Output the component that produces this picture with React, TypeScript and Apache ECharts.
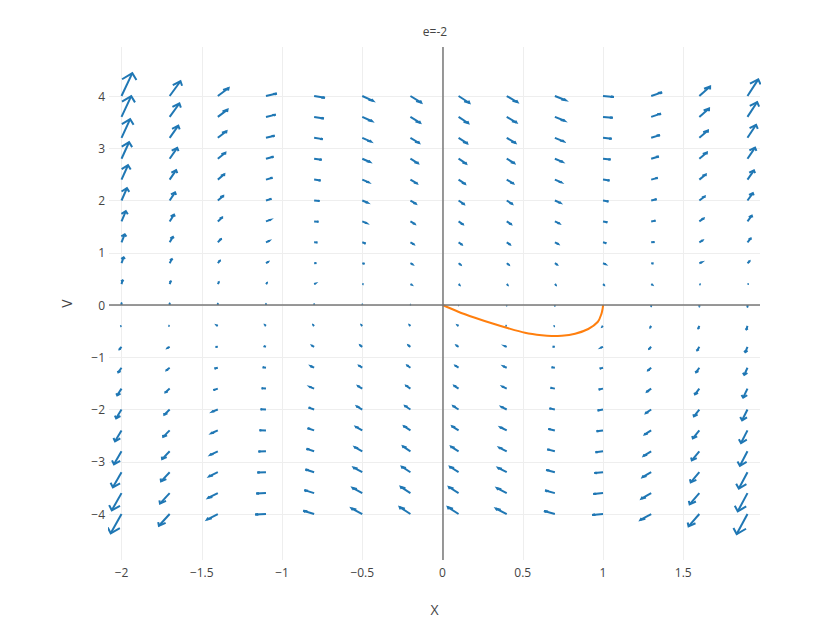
import React, { useEffect, useRef } from "react";
import * as echarts from "echarts";

// Quiver grid (arrow tails)
const X_GRID = [-2, -1.7, -1.4, -1.1, -0.8, -0.5, -0.2, 0.1, 0.4, 0.7, 1.0, 1.3, 1.6, 1.9];
const Y_GRID = [4, 3.6, 3.2, 2.8, 2.4, 2, 1.6, 1.2, 0.8, 0.4, 0, -0.4, -0.8, -1.2, -1.6, -2, -2.4, -2.8, -3.2, -3.6, -4];
// Horizontal component of the arrows, one value per row
const U_ROW = [4, 3.6, 3.2, 2.8, 2.4, 2, 1.6, 1.2, 0.8, 0.4, 0, -0.4, -0.8, -1.2, -1.6, -2, -2.4, -2.8, -3.2, -3.6, -4];
// Vertical component of the arrows (rows follow Y_GRID, columns follow X_GRID)
const V_TABLE = [
  [26, 16.8, 9.1, 2.8, -2.1, -5.5, -7.5, -8, -7.1, -4.8, -1, 4.2, 10.9, 19],
  [23.6, 15.3, 8.3, 2.6, -1.8, -4.9, -6.7, -7.2, -6.4, -4.4, -1, 3.7, 9.6, 16.9],
  [21.2, 13.8, 7.5, 2.4, -1.5, -4.3, -5.9, -6.4, -5.8, -4, -1, 3.1, 8.4, 14.8],
  [18.8, 12.3, 6.8, 2.3, -1.2, -3.7, -5.2, -5.6, -5.1, -3.6, -1, 2.6, 7.1, 12.7],
  [16.4, 10.8, 6, 2.1, -0.9, -3.1, -4.4, -4.9, -4.4, -3.1, -1, 2, 5.9, 10.6],
  [14, 9.3, 5.2, 1.9, -0.6, -2.5, -3.6, -4.1, -3.8, -2.7, -1, 1.5, 4.6, 8.5],
  [11.6, 7.7, 4.5, 1.8, -0.4, -1.9, -2.9, -3.3, -3.1, -2.3, -1, 0.9, 3.4, 6.5],
  [9.2, 6.2, 3.7, 1.6, -0.1, -1.3, -2.1, -2.5, -2.4, -1.9, -1, 0.4, 2.1, 4.4],
  [6.8, 4.7, 2.9, 1.4, 0.2, -0.7, -1.3, -1.7, -1.7, -1.5, -1, -0.2, 0.9, 2.3],
  [4.4, 3.2, 2.2, 1.3, 0.5, -0.1, -0.6, -0.9, -1.1, -1.1, -1, -0.7, -0.4, 0.2],
  [2, 1.7, 1.4, 1.1, 0.8, 0.5, 0.2, -0.1, -0.4, -0.7, -1, -1.3, -1.6, -1.9],
  [-0.4, 0.2, 0.6, 0.9, 1.1, 1.1, 1, 0.7, 0.3, -0.3, -1, -1.9, -2.8, -4],
  [-2.8, -1.3, -0.1, 0.8, 1.4, 1.7, 1.7, 1.5, 0.9, 0.1, -1, -2.4, -4.1, -6.1],
  [-5.2, -2.8, -0.9, 0.6, 1.7, 2.3, 2.5, 2.3, 1.6, 0.5, -1, -3, -5.3, -8.2],
  [-7.6, -4.3, -1.7, 0.4, 2, 2.9, 3.3, 3.1, 2.3, 0.9, -1, -3.5, -6.6, -10.3],
  [-10, -5.9, -2.4, 0.3, 2.2, 3.5, 4, 3.9, 3, 1.3, -1, -4.1, -7.8, -12.3],
  [-12.4, -7.4, -3.2, 0.1, 2.5, 4.1, 4.8, 4.7, 3.6, 1.7, -1, -4.6, -9.1, -14.4],
  [-14.8, -8.9, -4, -0.1, 2.8, 4.7, 5.6, 5.4, 4.3, 2.2, -1, -5.2, -10.3, -16.5],
  [-17.2, -10.4, -4.7, -0.2, 3.1, 5.3, 6.3, 6.2, 5, 2.6, -1, -5.7, -11.6, -18.6],
  [-19.6, -11.9, -5.5, -0.4, 3.4, 5.9, 7.1, 7, 5.6, 3, -1, -6.3, -12.8, -20.7],
  [-22, -13.4, -6.3, -0.6, 3.7, 6.5, 7.9, 7.8, 6.3, 3.4, -1, -6.8, -14.1, -22.8],
];

// Trajectory (orange curve)
const TRAJ_X = [1, 0.998, 0.99, 0.968, 0.908, 0.826, 0.743, 0.68, 0.618, 0.514, 0.41, 0.307, 0.202, 0.098, 0];
const TRAJ_Y = [0, -0.06, -0.17, -0.32, -0.459, -0.549, -0.588, -0.593, -0.58, -0.53, -0.446, -0.35, -0.243, -0.128, 0];

const X_TICKS = [-2, -1.5, -1, -0.5, 0, 0.5, 1, 1.5];
const Y_TICKS = [-4, -3, -2, -1, 0, 1, 2, 3, 4];

const TITLE = "e=-2";
const X_NAME = "X";
const Y_NAME = "V";

const SCALE = 0.0168;
const ARROW_SCALE = 0.3;
const ARROW_ANGLE = Math.PI / 9;

function buildArrows() {
  const out: any[] = [];
  Y_GRID.forEach((y0, r) => {
    X_GRID.forEach((x0, c) => {
      const du = U_ROW[r] * SCALE;
      const dv = V_TABLE[r][c] * SCALE;
      const x1 = x0 + du;
      const y1 = y0 + dv;
      const len = Math.hypot(du, dv);
      const L = len * ARROW_SCALE;
      const ang = Math.atan2(dv, du);
      const p1 = [x1 - L * Math.cos(ang + ARROW_ANGLE), y1 - L * Math.sin(ang + ARROW_ANGLE)];
      const p2 = [x1 - L * Math.cos(ang - ARROW_ANGLE), y1 - L * Math.sin(ang - ARROW_ANGLE)];
      out.push({ coords: [[x0, y0], [x1, y1]] });
      out.push({ coords: [p1, [x1, y1], p2] });
    });
  });
  return out;
}

const fmt = (v: number) => String(v).replace("-", "\u2212");

export default function App() {
  const ref = useRef<HTMLDivElement>(null);
  useEffect(() => {
    document.body.style.margin = "0";
    const chart = echarts.init(ref.current!, null, { renderer: "svg" });
    const font = "'Open Sans', 'Noto Sans', sans-serif";
    chart.setOption({
      animation: false,
      backgroundColor: "#fff",
      textStyle: { fontFamily: font },
      grid: { left: 109, top: 47, width: 651, height: 513, containLabel: false },
      graphic: [
        {
          type: "text",
          x: 435,
          y: 31,
          style: {
            text: TITLE,
            fill: "#444",
            font: `12px ${font}`,
            align: "center",
            verticalAlign: "middle",
          },
        },
      ],
      xAxis: {
        type: "value",
        min: -2.078,
        max: 1.978,
        axisLine: { show: false },
        axisTick: { show: false, customValues: X_TICKS },
        axisLabel: {
          customValues: X_TICKS,
          formatter: fmt,
          color: "#444",
          fontSize: 12,
          fontFamily: font,
          margin: 6,
        },
        splitLine: { show: true, lineStyle: { color: "#eee", width: 1 } },
        name: X_NAME,
        nameLocation: "middle",
        nameGap: 42,
        nameTextStyle: { color: "#444", fontSize: 14, fontFamily: font },
      },
      yAxis: {
        type: "value",
        min: -4.88,
        max: 4.938,
        axisLine: { show: false },
        axisTick: { show: false, customValues: Y_TICKS },
        axisLabel: {
          customValues: Y_TICKS,
          formatter: fmt,
          color: "#444",
          fontSize: 12,
          fontFamily: font,
          margin: 4,
        },
        splitLine: { show: true, lineStyle: { color: "#eee", width: 1 } },
        name: Y_NAME,
        nameLocation: "middle",
        nameRotate: 90,
        nameGap: 36,
        nameTextStyle: { color: "#444", fontSize: 14, fontFamily: font },
      },
      series: [
        {
          type: "line",
          data: [[0, 0]],
          showSymbol: false,
          symbolSize: 0,
          lineStyle: { opacity: 0 },
          silent: true,
          z: 1,
          markLine: {
            silent: true,
            symbol: "none",
            label: { show: false },
            lineStyle: { color: "#777", width: 1.5, type: "solid" },
            data: [{ xAxis: 0 }, { yAxis: 0 }],
          },
        },
        {
          type: "lines",
          coordinateSystem: "cartesian2d",
          polyline: true,
          silent: true,
          z: 2,
          lineStyle: { color: "#1f77b4", width: 2, opacity: 1, curveness: 0 },
          data: buildArrows(),
        },
        {
          type: "line",
          data: TRAJ_X.map((x, i) => [x, TRAJ_Y[i]]),
          showSymbol: false,
          smooth: 0.3,
          silent: true,
          z: 3,
          lineStyle: { color: "#ff7f0e", width: 2 },
        },
      ],
    });
    return () => chart.dispose();
  }, []);
  return <div ref={ref} style={{ width: 840, height: 630 }} />;
}
